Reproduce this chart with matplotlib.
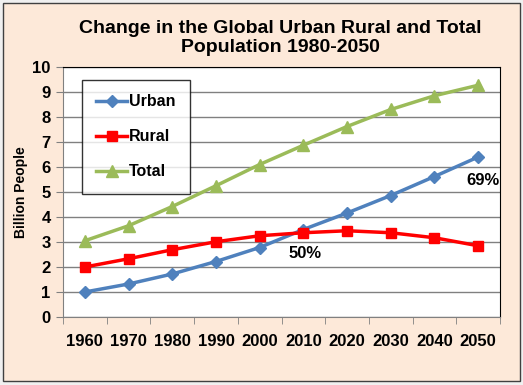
import matplotlib.pyplot as plt
import matplotlib.patches as mpatches
import numpy as np

plt.rcParams["font.family"] = ["Liberation Sans", "DejaVu Sans"]

years = ["1960", "1970", "1980", "1990", "2000", "2010", "2020", "2030", "2040", "2050"]
urban = [1.0, 1.32, 1.72, 2.22, 2.78, 3.5, 4.16, 4.86, 5.62, 6.4]
rural = [2.0, 2.33, 2.69, 3.01, 3.25, 3.37, 3.45, 3.37, 3.17, 2.85]
total = [3.05, 3.65, 4.42, 5.25, 6.1, 6.87, 7.62, 8.3, 8.85, 9.27]

fig = plt.figure(figsize=(5.23, 3.85), dpi=100)
fig.patch.set_facecolor("#f0f0f0")
fig.patches.append(mpatches.Rectangle((3/523, 4/385), 517/523, 378/385,
                                      transform=fig.transFigure, facecolor="#fde9d9",
                                      edgecolor="#404040", lw=1, zorder=-1))

ax = fig.add_axes([63/523, 68/385, 437/523, 250/385])
ax.set_facecolor("white")
x = np.arange(len(years))

ax.plot(x, urban, color="#4f81bd", lw=2.5, marker="D", ms=6.5, label="Urban", zorder=3)
ax.plot(x, rural, color="#ff0000", lw=2.5, marker="s", ms=7, label="Rural", zorder=3)
ax.plot(x, total, color="#9bbb59", lw=2.5, marker="^", ms=8, label="Total", zorder=3)

ax.set_xlim(-0.5, 9.5)
ax.set_ylim(0, 10)
ax.set_yticks(range(0, 11))
ax.set_xticks(x)
ax.set_xticklabels(years)
ax.set_xticks(np.arange(-0.5, 10, 1), minor=True)
ax.tick_params(axis="x", which="major", length=0, pad=12, labelsize=12)
ax.tick_params(axis="x", which="minor", length=5, color="#808080")
ax.tick_params(axis="y", length=5, color="#808080", labelsize=12, pad=4)
for lab in ax.get_xticklabels() + ax.get_yticklabels():
    lab.set_fontweight("bold")

ax.grid(True, axis="y", color="#808080", lw=1)
ax.set_axisbelow(True)
ax.spines["left"].set_color("#808080")
ax.spines["bottom"].set_color("#808080")
ax.spines["top"].set_color("black")
ax.spines["right"].set_color("black")

ax.set_ylabel("Billion People", fontsize=10, fontweight="bold", labelpad=3)

ax.text(9.1, 5.45, "69%", fontsize=12, fontweight="bold", ha="center", va="center")
ax.text(5.05, 2.55, "50%", fontsize=12, fontweight="bold", ha="center", va="center")

leg = ax.legend(loc="upper left", bbox_to_anchor=(19/437, 237/250), frameon=True,
                fancybox=False, edgecolor="black", fontsize=11.5, labelspacing=1.25,
                handlelength=1.9, handletextpad=0.15, borderpad=0.9, borderaxespad=0)
leg.get_frame().set_linewidth(1)
for t in leg.get_texts():
    t.set_fontweight("bold")

fig.text(280/523, 1 - 38/385, "Change in the Global Urban Rural and Total\nPopulation 1980-2050",
         ha="center", va="center", fontsize=14, fontweight="bold", linespacing=1.15)

fig.savefig("out.png", dpi=100, facecolor=fig.get_facecolor())
